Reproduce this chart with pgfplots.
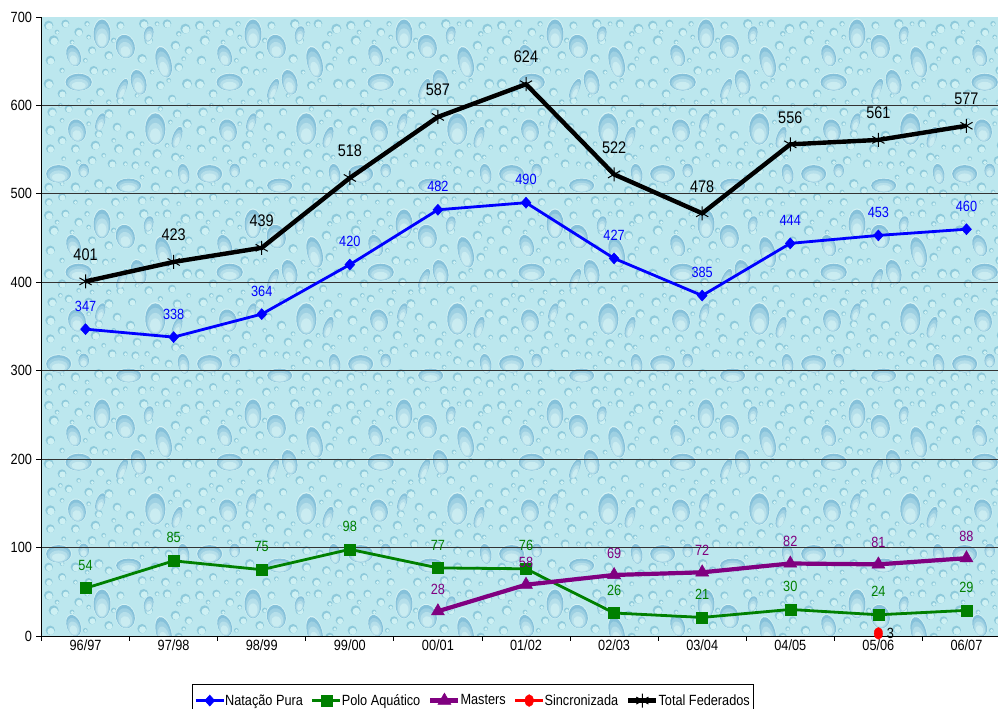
\documentclass[border=0pt]{standalone}
\usepackage{pgfplots}
\pgfplotsset{compat=1.18}
\usepackage{fontspec}
\setmainfont[FakeStretch=0.86]{Liberation Sans}
\newcommand\lblf{\fontsize{14.8}{16}\selectfont}
\newcommand\bigf{\fontsize{16.8}{18}\selectfont}
\definecolor{base}{HTML}{BCE7EE}
\definecolor{dk}{HTML}{86C1DA}
\definecolor{lt}{HTML}{D6F3F5}
\definecolor{sdk}{HTML}{8FCADB}
\definecolor{slt}{HTML}{CDF0F3}
\definecolor{gridc}{HTML}{333333}
\definecolor{pol}{HTML}{008000}
\definecolor{mas}{HTML}{800080}
\newcommand\smalllist{20/25/14,70/20/12,110/45/13,235/25/12,305/20/14,375/20/13,430/35/15,
 35/70/15,150/100/12,200/115/13,300/125/14,320/70/13,400/85/14,440/100/12,
 25/130/14,155/160/13,190/165/10,355/205/13,410/150/13,435/200/15,
 20/200/15,60/230/13,175/225/13,235/250/12,320/250/13,390/245/12,
 30/285/14,80/275/12,140/285/13,200/290/14,270/285/12,405/290/13,
 25/340/15,60/370/13,170/350/12,225/330/13,265/355/14,435/320/14,
 25/395/13,100/395/13,160/385/14,230/395/14,285/405/13,345/410/14,400/420/13,
 150/430/13,210/440/13,280/445/12,340/460/13,380/470/12,
 20/510/13,100/510/14,170/500/14,200/520/12,340/510/14,400/520/13,438/530/13,
 60/540/12,140/555/12,220/555/13,300/550/13,370/555/13,20/555/12,
 45/45/7,90/75/7,135/20/8,140/60/7,215/70/8,215/160/7,130/130/7,60/160/8,345/20/7,
 410/50/8,425/125/7,380/190/7,330/165/7,55/265/7,110/250/7,150/255/7,200/255/8,285/235/7,
 355/275/8,440/265/7,60/310/7,140/320/7,215/370/7,300/380/7,385/315/7,440/390/7,65/425/7,
 110/435/8,185/415/7,250/440/7,315/440/8,375/385/7,60/500/7,135/525/7,300/480/7,420/420/7,
 250/545/7,330/545/7,410/560/7,100/555/7}
\newcommand\biglist{180/50/27/46/0,250/88/30/38/-15,95/115/22/35/-20,365/135/24/50/-15,
 110/195/42/27/0,290/195/24/40/-15,240/215/13/35/25,340/335/32/50/0,105/340/28/36/-15,
 405/360/14/35/20,50/470/40/28/0,125/460/17/22/0,260/505/40/22/0,425/470/18/32/-10,
 175/315/14/30/20,320/50/15/25/15}
\newcommand\biglayer[4]{% colour, scale x, scale y, shift
 \fill[#1] \foreach \x/\y/\a/\b/\t in \biglist {
   ({\x},{\y+#4*\b}) ellipse [x radius={#2*\a},y radius={#3*\b},rotate=\t]};}
\newcommand\tile{%
 \fill[sdk] \foreach \x/\y/\r in \smalllist {(\x,\y) circle (\r)};
 \fill[slt] \foreach \x/\y/\r in \smalllist {({\x+.12*\r},{\y+.22*\r}) circle ({.74*\r})};
 \biglayer{lt}{1}{1}{0}
 \biglayer{dk}{.94}{.94}{.02}
 \biglayer{dk!70!lt}{.82}{.80}{.14}
 \biglayer{dk!40!lt}{.68}{.62}{.27}
 \biglayer{dk!15!lt}{.50}{.42}{.40}
}
\begin{document}
\begin{tikzpicture}[x=1pt,y=1pt]
\path[use as bounding box] (0,0) rectangle (998,709);
\begin{scope}
\clip (41.5,73) rectangle (998,692);
\fill[base] (41.5,73) rectangle (998,692);
\foreach \tx in {0,...,6}{\foreach \ty in {0,...,3}{%
 \begin{scope}[shift={({42+151*\tx},{692-190*\ty})},xscale=1/3,yscale=-1/3]
 \tile
 \end{scope}}}
\end{scope}
\begin{axis}[
 at={(41.5pt,73pt)},anchor=south west,scale only axis,
 width=956.5pt,height=619pt,
 xmin=-0.5,xmax=10.358,ymin=0,ymax=700,
 axis lines=left,axis line style={-,black,line width=1pt},
 clip=false,
 xtick={0,...,10},
 xticklabels={96/97,97/98,98/99,99/00,00/01,01/02,02/03,03/04,04/05,05/06,06/07},
 minor xtick={-0.5,0.5,1.5,2.5,3.5,4.5,5.5,6.5,7.5,8.5,9.5},
 major x tick style={draw=none},
 minor x tick style={black,line width=.8pt},
 ytick={0,700},
 extra y ticks={100,200,300,400,500,600},
 extra y tick style={grid=major},
 major grid style={gridc,line width=.9pt},
 y tick style={black,line width=.8pt},
 tick align=outside,major tick length=5pt,minor tick length=5pt,
 tick label style={font=\lblf},
 /pgf/number format/assume math mode=true,
 xticklabel style={yshift=5pt},
 yticklabel style={xshift=-1pt},
 legend columns=5,
 legend style={at={(0.1573,-0.0775)},anchor=north west,draw=black,line width=.8pt,
   font=\lblf,inner xsep=2pt,inner ysep=8pt,row sep=0pt,
   /tikz/every even column/.append style={column sep=6pt},
   /tikz/every odd column/.append style={column sep=-2pt}},
 legend image code/.code={\draw[mark repeat=2,mark phase=2,#1] plot coordinates {(0pt,0pt)(14pt,0pt)(28pt,0pt)};},
 nodes near coords,
 nodes near coords style={font=\lblf,anchor=center},
]
\addplot[blue,line width=2.8pt,mark=diamond*,mark size=5.5pt,mark options={solid,fill=blue,line width=.5pt,xscale=1.2},
 nodes near coords style={text=blue,yshift=23pt}] coordinates {
 (0,347)(1,338)(2,364)(3,420)(4,482)(5,490)(6,427)(7,385)(8,444)(9,453)(10,460)};
\addlegendentry{Natação Pura}
\addplot[pol,line width=2.8pt,mark=square*,mark size=5.5pt,mark options={solid,fill=pol,line width=.5pt},
 nodes near coords style={text=pol,yshift=23pt}] coordinates {
 (0,54)(1,85)(2,75)(3,98)(4,77)(5,76)(6,26)(7,21)(8,30)(9,24)(10,29)};
\addlegendentry{Polo Aquático}
\addplot[mas,line width=4.2pt,mark=triangle*,mark size=7.5pt,mark options={solid,fill=mas,line width=.5pt},
 nodes near coords style={text=mas,yshift=22pt}] coordinates {
 (4,28)(5,58)(6,69)(7,72)(8,82)(9,81)(10,88)};
\addlegendentry{Masters}
\addplot[red,line width=2.8pt,mark=*,mark size=5pt,mark options={solid,fill=red,line width=.3pt,xscale=.85,yscale=1.2},
 nodes near coords style={text=black,xshift=12pt,yshift=0pt}] coordinates {(9,3)};
\addlegendentry{Sincronizada}
\addplot[black,line width=4.4pt,mark=asterisk,mark size=7pt,mark options={solid,line width=1pt},
 nodes near coords style={font=\bigf,text=black,yshift=27pt}] coordinates {
 (0,401)(1,423)(2,439)(3,518)(4,587)(5,624)(6,522)(7,478)(8,556)(9,561)(10,577)};
\addlegendentry{Total Federados}
\end{axis}
\end{tikzpicture}
\end{document}
